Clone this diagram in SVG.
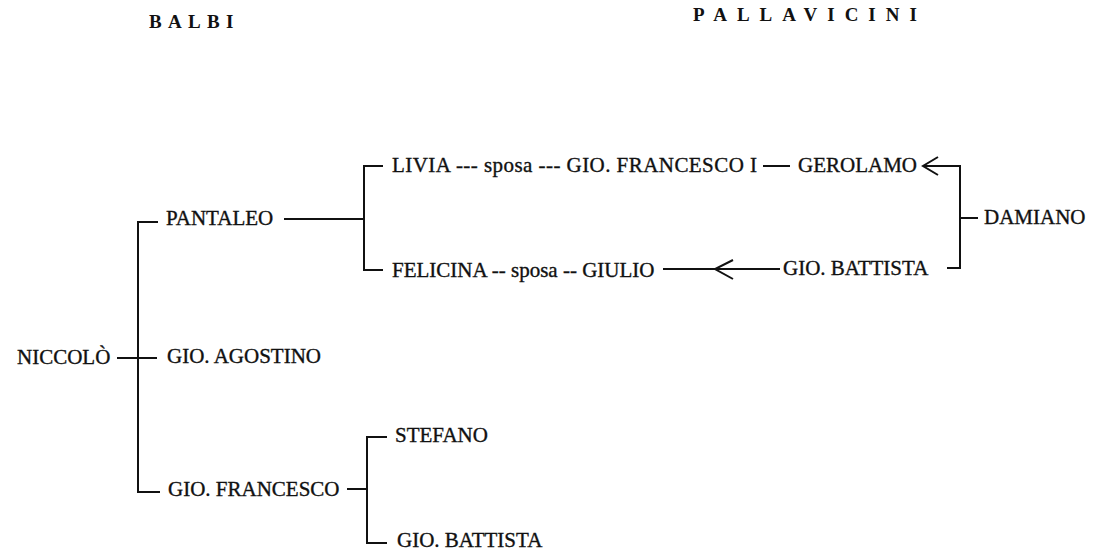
<svg xmlns="http://www.w3.org/2000/svg" width="1102" height="555" viewBox="0 0 1102 555">
<style>
.t{font-family:"Liberation Serif","DejaVu Serif",serif;font-size:21px;fill:#111;stroke:#111;stroke-width:0.35}
.h{font-family:"Liberation Serif","DejaVu Serif",serif;font-size:19px;font-weight:bold;fill:#111}
.c{fill:none;stroke:#111;stroke-width:2;stroke-linecap:square}
.a{fill:none;stroke:#111;stroke-width:2}
</style>
<rect width="1102" height="555" fill="#fff"/>
<g id="headers">
<text class="h" x="149" y="28" letter-spacing="6.3">BALBI</text>
<text class="h" x="693" y="21" letter-spacing="10">PALLAVICINI</text>
</g>
<g id="connectors">
<path class="c" d="M118,358 H156"/>
<path class="c" d="M157,222 H138 V492 H159"/>
<path class="c" d="M285,219 H363"/>
<path class="c" d="M382,166 H364 V270 H382"/>
<path class="c" d="M764,166 H789"/>
<path class="c" d="M924,166 H960 V268 H948"/>
<path class="c" d="M961,218 H977"/>
<path class="c" d="M664,269 H779"/>
<path class="c" d="M348,489 H367"/>
<path class="c" d="M386,437 H367 V543 H386"/>
<path class="a" d="M938,157 L923,166 L938,175"/>
<path class="a" d="M733,260 L715,269 L733,279"/>
</g>
<g id="niccolo"><text class="t" x="17" y="364">NICCOLÒ</text></g>
<g id="pantaleo"><text class="t" x="166" y="225">PANTALEO</text></g>
<g id="gio-agostino"><text class="t" x="167" y="363">GIO. AGOSTINO</text></g>
<g id="gio-francesco"><text class="t" x="168" y="496">GIO. FRANCESCO</text></g>
<g id="livia"><text class="t" x="392" y="172" textLength="365" lengthAdjust="spacing">LIVIA --- sposa --- GIO. FRANCESCO I</text></g>
<g id="gerolamo"><text class="t" x="798" y="172">GEROLAMO</text></g>
<g id="felicina"><text class="t" x="392" y="277">FELICINA -- sposa -- GIULIO</text></g>
<g id="gio-battista-p"><text class="t" x="783" y="275">GIO. BATTISTA</text></g>
<g id="damiano"><text class="t" x="984" y="224">DAMIANO</text></g>
<g id="stefano"><text class="t" x="395" y="442">STEFANO</text></g>
<g id="gio-battista-b"><text class="t" x="397" y="547">GIO. BATTISTA</text></g>
</svg>
